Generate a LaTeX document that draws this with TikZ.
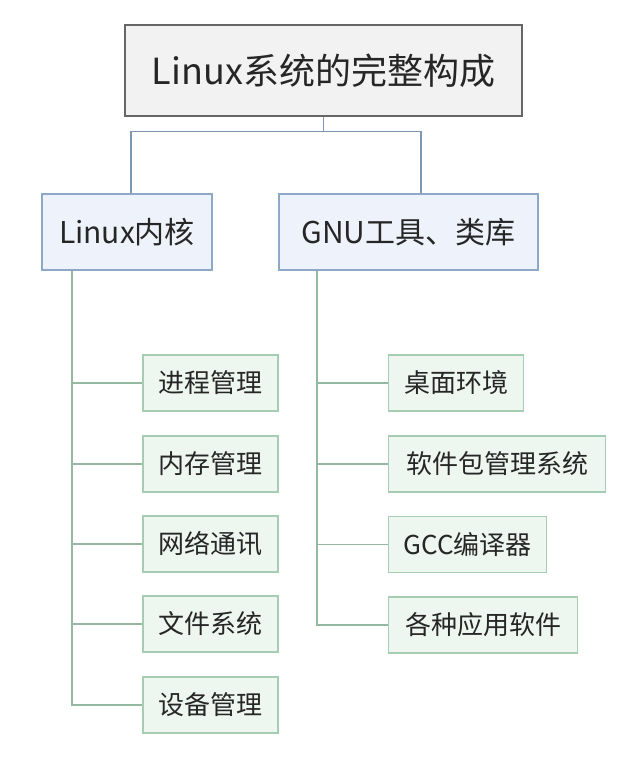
\documentclass[tikz,border=0pt]{standalone}
\usepackage{fontspec}
\setmainfont{Noto Sans CJK SC}
\usepackage{tikz}
\usetikzlibrary{calc}
\definecolor{rootfill}{HTML}{F2F2F2}
\definecolor{rootline}{HTML}{666666}
\definecolor{midfill}{HTML}{EEF3FB}
\definecolor{midline}{HTML}{8EA8C8}
\definecolor{leaffill}{HTML}{EEF6F0}
\definecolor{leafline}{HTML}{A6CDB4}
\definecolor{textgray}{HTML}{262626}
\tikzset{
  rootbox/.style={draw=rootline, fill=rootfill, line width=1.6pt, text=textgray,
    minimum width=397pt, minimum height=91pt, font=\fontsize{36}{40}\selectfont},
  midbox/.style={draw=midline, fill=midfill, line width=1.4pt, text=textgray,
    minimum height=76pt, font=\fontsize{30}{34}\selectfont},
  leafbox/.style={draw=leafline, fill=leaffill, line width=1.4pt, text=textgray,
    minimum height=56pt, inner sep=0pt, font=\fontsize{26}{30}\selectfont},
  upper/.style={draw=midline!90!black, line width=1.3pt},
  lower/.style={draw=leafline!90!black, line width=1.3pt}
}

\begin{document}
\begin{tikzpicture}[x=1pt,y=-1pt]
			%%%%% START %%%%%
			\useasboundingbox (0,0) rectangle (642,766);
			
			\node[rootbox] (root) at (323.5,70.5) {Linux系统的完整构成};
			
			\node[midbox, minimum width=170pt] (kernel) at (127,232) {Linux内核};
			\node[midbox, minimum width=259pt] (gnu) at (408.5,232) {GNU工具、类库};
			
			\draw[upper] (root.south) -- ++(0,15) -| ([xshift=4pt]kernel.north);
			\draw[upper] (root.south) -- ++(0,15) -| ([xshift=12.5pt]gnu.north);
			
			% kernel parts
			\node[leafbox, minimum width=135pt] (k1) at (210.5,383) {进程管理};
			\node[leafbox, minimum width=135pt] (k2) at (210.5,464) {内存管理};
			\node[leafbox, minimum width=135pt] (k3) at (210.5,544) {网络通讯};
			\node[leafbox, minimum width=135pt] (k4) at (210.5,624) {文件系统};
			\node[leafbox, minimum width=135pt] (k5) at (210.5,705) {设备管理};
			
			% gnu parts
			\node[leafbox, anchor=west, minimum width=135pt] (g1) at (388,383) {桌面环境};
			\node[leafbox, anchor=west, minimum width=217pt] (g2) at (388,464) {软件包管理系统};
			\node[leafbox, anchor=west, minimum width=158pt] (g3) at (388,544.5) {GCC编译器};
			\node[leafbox, anchor=west, minimum width=189pt] (g4) at (388,625) {各种应用软件};
			
			\coordinate (kspine) at (72,0);
			\coordinate (gspine) at (317,0);
			\foreach \n in {k1,k2,k3,k4,k5}
				\draw[lower] (kspine |- kernel.south) |- (\n.west);
			\foreach \n in {g1,g2,g3,g4}
				\draw[lower] (gspine |- gnu.south) |- (\n.west);
			
			%%%%% END %%%%%
		\end{tikzpicture}
\end{document}
